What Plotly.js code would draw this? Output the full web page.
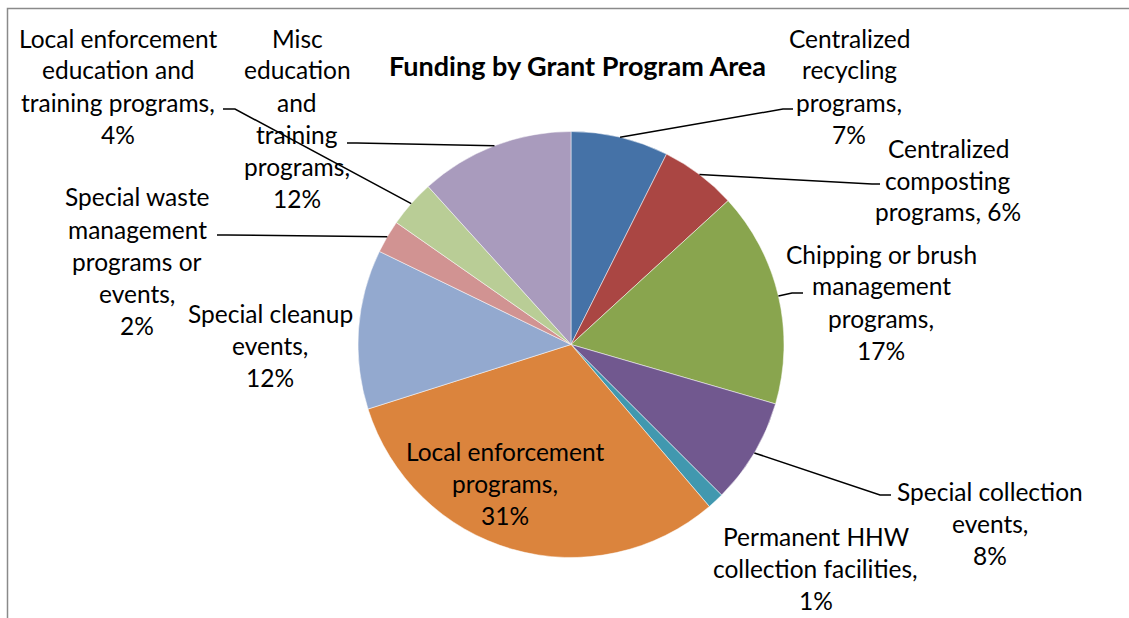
<!DOCTYPE html>
<html>
<head>
<meta charset="utf-8">
<script src="https://cdn.plot.ly/plotly-3.0.1.min.js"></script>
<style>
  html, body { margin: 0; padding: 0; background: #fff; }
  #chart { width: 1129px; height: 618px; }
</style>
</head>
<body>
<div id="chart"></div>
<script>
// slice data, clockwise from 12 o'clock
const programs = [
  "Centralized recycling programs",
  "Centralized composting programs",
  "Chipping or brush management programs",
  "Special collection events",
  "Permanent HHW collection facilities",
  "Local enforcement programs",
  "Special cleanup events",
  "Special waste management programs or events",
  "Local enforcement education and training programs",
  "Misc education and training programs",
];
const shares = [7.4, 5.8, 16.3, 8.0, 1.25, 31.35, 12.1, 2.5, 3.6, 11.7];
const pctLabels = ["7%", "6%", "17%", "8%", "1%", "31%", "12%", "2%", "4%", "12%"];
const sliceColors = [
  "#4572a7", "#aa4643", "#89a54e", "#71588f", "#4198af",
  "#db843d", "#93a9cf", "#d19392", "#b9cd96", "#a99bbd",
];

// label text broken into lines the way the chart shows them
const labelLines = [
  ["Centralized", "recycling", "programs,"],
  ["Centralized", "composting", "programs,"],
  ["Chipping or brush", "management", "programs,"],
  ["Special collection", "events,"],
  ["Permanent HHW", "collection facilities,"],
  ["Local enforcement", "programs,"],
  ["Special cleanup", "events,"],
  ["Special waste", "management", "programs or", "events,"],
  ["Local enforcement", "education and", "training programs,"],
  ["Misc", "education", "and", "training", "programs,"],
];
const pctInline = [false, true, false, false, false, false, false, false, false, false];

// label placement (pixels): centre x, first line centre y
const labelPos = [
  [849, 38], [948, 148], [881, 254], [990, 491], [816, 536],
  [505, 451], [270, 313], [137, 197], [118, 38], [297, 38],
];
// leader lines: elbow and end points (pixels), null = no line
const leaders = [
  [[783, 109], [793, 109]],
  [[872, 184], [880, 184]],
  [[792, 293], [803, 293]],
  [[880, 495], [891, 495]],
  null,
  null,
  null,
  [[227, 235], [217, 235]],
  [[235, 109], [223, 109]],
  [[357, 143], [347, 143]],
];

const W = 1129, H = 618;
const cx = 571, cy = 344.5, R = 213;
const lineStep = 32;
const fontFam = "Lato, 'Open Sans', sans-serif";

const px = (x) => x / W;
const py = (y) => 1 - y / H;

const total = shares.reduce((a, b) => a + b, 0);
let cum = 0;
const anchors = shares.map((v) => {
  const mid = ((cum + v / 2) / total) * 2 * Math.PI;
  cum += v;
  return [cx + R * Math.sin(mid), cy - R * Math.cos(mid)];
});

const annotations = [];
labelLines.forEach((lines, i) => {
  let all = lines.slice();
  if (pctInline[i]) {
    all[all.length - 1] = all[all.length - 1] + " " + pctLabels[i];
  } else {
    all.push(pctLabels[i]);
  }
  all.forEach((t, j) => {
    annotations.push({
      text: t,
      xref: "paper",
      yref: "paper",
      x: px(labelPos[i][0]),
      y: py(labelPos[i][1] + j * lineStep),
      xanchor: "center",
      yanchor: "middle",
      showarrow: false,
      font: { family: fontFam, size: 24.5, color: "#000" },
    });
  });
});

annotations.push({
  text: "<b>Funding by Grant Program Area</b>",
  xref: "paper",
  yref: "paper",
  x: px(577),
  y: py(65),
  xanchor: "center",
  yanchor: "middle",
  showarrow: false,
  font: { family: fontFam, size: 27, color: "#000" },
});

const shapes = [
  {
    type: "rect",
    xref: "paper",
    yref: "paper",
    x0: px(7.5),
    x1: px(1140),
    y0: py(8.5),
    y1: py(640),
    line: { color: "#8a8a8a", width: 1.5 },
  },
];
leaders.forEach((l, i) => {
  if (!l) return;
  const a = anchors[i];
  shapes.push({
    type: "path",
    xref: "paper",
    yref: "paper",
    path:
      "M " + px(a[0]) + "," + py(a[1]) +
      " L " + px(l[0][0]) + "," + py(l[0][1]) +
      " L " + px(l[1][0]) + "," + py(l[1][1]),
    line: { color: "#000", width: 1.5 },
  });
});

const trace = {
  type: "pie",
  labels: programs,
  values: shares,
  sort: false,
  direction: "clockwise",
  rotation: 0,
  textinfo: "none",
  hoverinfo: "label+percent",
  marker: { colors: sliceColors, line: { color: "#ffffff", width: 0.5 } },
  domain: { x: [px(cx - R), px(cx + R)], y: [py(cy + R), py(cy - R)] },
  showlegend: false,
};

const layout = {
  width: W,
  height: H,
  margin: { l: 0, r: 0, t: 0, b: 0 },
  paper_bgcolor: "#fff",
  showlegend: false,
  annotations,
  shapes,
};

Plotly.newPlot("chart", [trace], layout, { displayModeBar: false, staticPlot: true });
</script>
</body>
</html>
